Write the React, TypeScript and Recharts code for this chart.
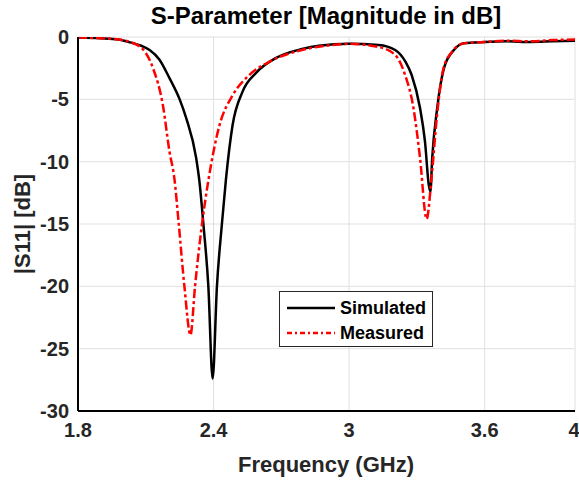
import { LineChart, Line, XAxis, YAxis, CartesianGrid } from 'recharts'

const simFreq = [1.8, 1.9, 1.98, 2.03, 2.08, 2.117, 2.16, 2.205, 2.25, 2.279, 2.323, 2.337, 2.355, 2.377, 2.396, 2.415, 2.437, 2.455, 2.484, 2.528, 2.587, 2.675, 2.792, 2.866, 3.0, 3.13, 3.204, 3.25, 3.277, 3.314, 3.336, 3.353, 3.36, 3.368, 3.39, 3.42, 3.464, 3.508, 3.6, 3.7, 3.8, 3.9, 4.0]
const simDb = [-0.05, -0.1, -0.2, -0.43, -0.7, -1.04, -1.8, -3.3, -5.0, -6.5, -9.7, -11.5, -15, -20, -27.4, -20, -15, -11.4, -7.1, -4.4, -2.9, -1.7, -0.96, -0.7, -0.55, -0.64, -1.04, -2.0, -3.05, -5.7, -8.4, -11.9, -12.4, -9.7, -5.7, -2.5, -1.04, -0.5, -0.4, -0.35, -0.4, -0.35, -0.3]

const measFreq = [1.8, 1.9, 1.98, 2.029, 2.088, 2.132, 2.176, 2.205, 2.227, 2.246, 2.271, 2.298, 2.318, 2.349, 2.378, 2.426, 2.484, 2.558, 2.646, 2.791, 2.9, 3.0, 3.13, 3.204, 3.248, 3.285, 3.314, 3.343, 3.366, 3.388, 3.418, 3.455, 3.51, 3.6, 3.7, 3.8, 3.9, 4.0]
const measDb = [-0.05, -0.1, -0.2, -0.4, -1.0, -2.5, -5.5, -9.2, -11.4, -15, -20, -23.9, -20, -15, -11.4, -7.1, -4.7, -3.05, -2.0, -1.04, -0.7, -0.55, -0.8, -1.44, -3.05, -5.7, -9.7, -14.6, -11.1, -6.5, -2.5, -1.2, -0.5, -0.4, -0.3, -0.35, -0.25, -0.2]

const xTicks = [1.8, 2.4, 3, 3.6, 4]
const yTicks = [-30, -25, -20, -15, -10, -5, 0]

const simData = simFreq.map((f, i) => ({ f, db: simDb[i] }))
const measData = measFreq.map((f, i) => ({ f, db: measDb[i] }))

const font = '"Liberation Sans", Arial, sans-serif'
const tickStyle = { fill: '#262626', fontSize: 20, fontWeight: 'bold', fontFamily: font }
const axisStroke = { stroke: '#000', strokeWidth: 2 }

const XLabel = () => (
    <text x={326} y={472} textAnchor="middle" fontSize={22} fontWeight="bold" fontFamily={font} fill="#262626">
        Frequency (GHz)
    </text>
)

const YLabel = () => (
    <text x={0} y={0} transform="translate(30,224) rotate(-90)" textAnchor="middle" fontSize={22} fontWeight="bold" fontFamily={font} fill="#262626">
        |S11| [dB]
    </text>
)

function LegendBox() {
    const row = (color: string, dash: string | undefined, label: string) => (
        <div style={{ display: 'flex', alignItems: 'center', height: 25 }}>
            <svg width={48} height={6} style={{ marginRight: 5 }}>
                <line x1={0} y1={3} x2={48} y2={3} stroke={color} strokeWidth={2.5} strokeDasharray={dash} />
            </svg>
            <span>{label}</span>
        </div>
    )
    return (
        <div
            style={{
                position: 'absolute',
                left: 279,
                top: 291,
                width: 154,
                height: 56,
                boxSizing: 'border-box',
                border: '1px solid #262626',
                background: '#fff',
                padding: '3px 0 0 7px',
                fontFamily: font,
                fontWeight: 'bold',
                fontSize: 18,
                color: '#000',
                lineHeight: '20px',
            }}
        >
            {row('#000', undefined, 'Simulated')}
            {row('#ff0000', '5 3 2 3', 'Measured')}
        </div>
    )
}

export default function App() {
    return (
        <div style={{ position: 'relative', width: 579, height: 481, background: '#fff' }}>
            <style>{'body{margin:0;}'}</style>
            <LineChart width={579} height={481} margin={{ top: 37, right: 4, bottom: 0, left: 0 }}>
                <CartesianGrid stroke="#e0e0e0" strokeWidth={1} yAxisId="left" />
                <XAxis
                    dataKey="f"
                    type="number"
                    domain={[1.8, 4]}
                    ticks={xTicks}
                    allowDataOverflow
                    height={70}
                    tickLine={false}
                    tickSize={0}
                    tickMargin={12}
                    axisLine={axisStroke}
                    tick={tickStyle}
                    label={<XLabel />}
                />
                <XAxis
                    xAxisId="top"
                    orientation="top"
                    type="number"
                    domain={[1.8, 4]}
                    height={0}
                    tick={false}
                    tickLine={false}
                    axisLine={axisStroke}
                />
                <YAxis
                    yAxisId="left"
                    type="number"
                    domain={[-30, 0]}
                    ticks={yTicks}
                    allowDataOverflow
                    width={78}
                    tickLine={false}
                    tickSize={0}
                    tickMargin={9}
                    axisLine={axisStroke}
                    tick={tickStyle}
                    label={<YLabel />}
                />
                <YAxis
                    yAxisId="right"
                    orientation="right"
                    type="number"
                    domain={[-30, 0]}
                    width={0}
                    tick={false}
                    tickLine={false}
                    axisLine={axisStroke}
                />
                <Line
                    yAxisId="left"
                    data={simData}
                    dataKey="db"
                    name="Simulated"
                    type="monotone"
                    stroke="#000"
                    strokeWidth={2.5}
                    dot={false}
                    isAnimationActive={false}
                />
                <Line
                    yAxisId="left"
                    data={measData}
                    dataKey="db"
                    name="Measured"
                    type="monotone"
                    stroke="#ff0000"
                    strokeWidth={2.5}
                    strokeDasharray="9 3 3 3"
                    dot={false}
                    isAnimationActive={false}
                />
            </LineChart>
            <div
                style={{
                    position: 'absolute',
                    left: 0,
                    top: 2,
                    width: 652,
                    textAlign: 'center',
                    fontFamily: font,
                    fontWeight: 'bold',
                    fontSize: 24,
                    lineHeight: '28px',
                    color: '#000',
                    whiteSpace: 'nowrap',
                }}
            >
                S-Parameter [Magnitude in dB]
            </div>
            <LegendBox />
        </div>
    )
}
